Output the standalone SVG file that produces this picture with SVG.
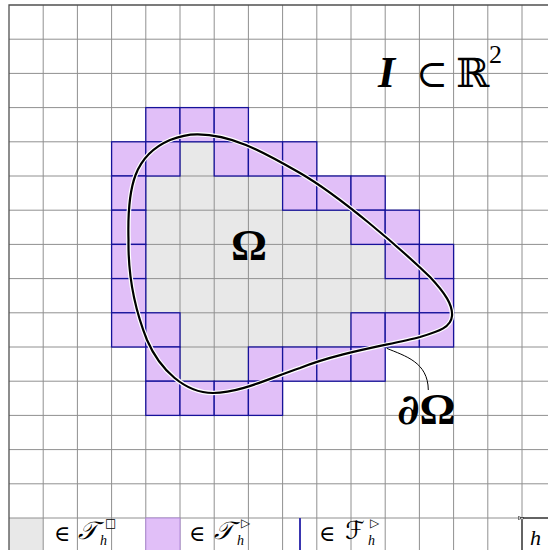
<svg xmlns="http://www.w3.org/2000/svg" width="548" height="550" viewBox="0 0 548 550">
<defs>
<style>
.g{fill:#e8e8e8;stroke:none}
.p{fill:#e1bff8;stroke:#16129a;stroke-width:1.3}
.grid{fill:none;stroke:#909090;stroke-width:1}
.ser{font-family:"Liberation Serif","DejaVu Serif",serif}
.mth{font-family:"DejaVu Serif","DejaVu Sans",serif}
.sym{font-family:"DejaVu Sans",sans-serif}
</style>
<marker id="ah" viewBox="0 0 10 10" refX="1" refY="5" markerWidth="4" markerHeight="4" orient="auto-start-reverse" markerUnits="userSpaceOnUse">
<path d="M10,1 L1,5 L10,9 Z" fill="#fff" stroke="#000" stroke-width="1.5"/>
</marker>
</defs>
<rect x="0" y="0" width="548" height="550" fill="#fff"/>
<g id="inner-cells">
<rect class="g" x="180" y="141.8" width="34.2" height="34.2"/>
<rect class="g" x="145.8" y="176" width="136.8" height="34.2"/>
<rect class="g" x="145.8" y="210.2" width="205.2" height="34.2"/>
<rect class="g" x="145.8" y="244.4" width="239.4" height="34.2"/>
<rect class="g" x="145.8" y="278.6" width="273.6" height="34.2"/>
<rect class="g" x="180" y="312.8" width="171" height="34.2"/>
<rect class="g" x="180" y="347" width="68.4" height="34.2"/>
<rect class="g" x="9" y="518" width="34.2" height="40"/>
</g>
<g id="grid">
<path class="grid" d="M43.2,5V550M77.4,5V550M111.6,5V550M145.8,5V550M180,5V550M214.2,5V550M248.4,5V550M282.6,5V550M316.8,5V550M351,5V550M385.2,5V550M419.4,5V550M453.6,5V550M487.8,5V550M522,5V550M9,39.2H548M9,73.4H548M9,107.6H548M9,141.8H548M9,176H548M9,210.2H548M9,244.4H548M9,278.6H548M9,312.8H548M9,347H548M9,381.2H548M9,415.4H548M9,449.6H548M9,483.8H548M9,518H548"/>
<path d="M9,550V5H548" fill="none" stroke="#505050" stroke-width="1.3"/>
</g>
<g id="cut-cells">
<rect class="p" x="145.8" y="107.6" width="34.2" height="34.2"/>
<rect class="p" x="180" y="107.6" width="34.2" height="34.2"/>
<rect class="p" x="214.2" y="107.6" width="34.2" height="34.2"/>
<rect class="p" x="111.6" y="141.8" width="34.2" height="34.2"/>
<rect class="p" x="145.8" y="141.8" width="34.2" height="34.2"/>
<rect class="p" x="214.2" y="141.8" width="34.2" height="34.2"/>
<rect class="p" x="248.4" y="141.8" width="34.2" height="34.2"/>
<rect class="p" x="282.6" y="141.8" width="34.2" height="34.2"/>
<rect class="p" x="111.6" y="176" width="34.2" height="34.2"/>
<rect class="p" x="282.6" y="176" width="34.2" height="34.2"/>
<rect class="p" x="316.8" y="176" width="34.2" height="34.2"/>
<rect class="p" x="351" y="176" width="34.2" height="34.2"/>
<rect class="p" x="111.6" y="210.2" width="34.2" height="34.2"/>
<rect class="p" x="351" y="210.2" width="34.2" height="34.2"/>
<rect class="p" x="385.2" y="210.2" width="34.2" height="34.2"/>
<rect class="p" x="111.6" y="244.4" width="34.2" height="34.2"/>
<rect class="p" x="385.2" y="244.4" width="34.2" height="34.2"/>
<rect class="p" x="419.4" y="244.4" width="34.2" height="34.2"/>
<rect class="p" x="111.6" y="278.6" width="34.2" height="34.2"/>
<rect class="p" x="419.4" y="278.6" width="34.2" height="34.2"/>
<rect class="p" x="111.6" y="312.8" width="34.2" height="34.2"/>
<rect class="p" x="145.8" y="312.8" width="34.2" height="34.2"/>
<rect class="p" x="351" y="312.8" width="34.2" height="34.2"/>
<rect class="p" x="385.2" y="312.8" width="34.2" height="34.2"/>
<rect class="p" x="419.4" y="312.8" width="34.2" height="34.2"/>
<rect class="p" x="145.8" y="347" width="34.2" height="34.2"/>
<rect class="p" x="248.4" y="347" width="34.2" height="34.2"/>
<rect class="p" x="282.6" y="347" width="34.2" height="34.2"/>
<rect class="p" x="316.8" y="347" width="34.2" height="34.2"/>
<rect class="p" x="351" y="347" width="34.2" height="34.2"/>
<rect class="p" x="145.8" y="381.2" width="34.2" height="34.2"/>
<rect class="p" x="180" y="381.2" width="34.2" height="34.2"/>
<rect class="p" x="214.2" y="381.2" width="34.2" height="34.2"/>
<rect class="p" x="248.4" y="381.2" width="34.2" height="34.2"/>
</g>
<g id="boundary">
<path d="M197,134.3 C230,134 260,150 300,173 C340,196 400,248 430,277 C445,293 453,305 452,316 C451,327 440,331 420,337 C390,345 340,352 300,368 C270,378 240,393 213,393 C185,393 160,370 147,340 C135,310 128,275 128.5,240 C127,185 135,155 170,140 C180,136 188,134.3 197,134.3 Z" fill="none" stroke="#fff" stroke-width="4.6"/>
<path d="M197,134.3 C230,134 260,150 300,173 C340,196 400,248 430,277 C445,293 453,305 452,316 C451,327 440,331 420,337 C390,345 340,352 300,368 C270,378 240,393 213,393 C185,393 160,370 147,340 C135,310 128,275 128.5,240 C127,185 135,155 170,140 C180,136 188,134.3 197,134.3 Z" fill="none" stroke="#000" stroke-width="2.2"/>
</g>
<g id="connectors">
<path d="M386.7,348.3 C405,356 428,362 428.3,390" fill="none" stroke="#000" stroke-width="1"/>
</g>
<g id="labels">
<text class="ser" x="249" y="260" font-size="45" font-weight="bold" text-anchor="middle">Ω</text>
<text x="397" y="424" font-size="42" font-weight="bold"><tspan class="mth" font-style="italic">∂</tspan><tspan class="ser" font-size="45">Ω</tspan></text>
<text class="ser" x="378" y="87" font-size="44" font-weight="bold" font-style="italic">I</text>
<text class="mth" x="416" y="87" font-size="38">⊂</text>
<text class="mth" x="456" y="87" font-size="40">ℝ</text>
<text class="ser" x="489" y="63" font-size="26">2</text>
</g>
<g id="legend">
<rect x="145.8" y="518" width="34.2" height="40" fill="#e1bff8" stroke="#b08ad8" stroke-width="1"/>
<line x1="300" y1="518" x2="300" y2="550" stroke="#3a36b0" stroke-width="2"/>
<text class="mth" x="54" y="541" font-size="22">∈</text>
<text class="mth" x="78" y="539" font-size="25" font-style="italic">𝒯</text>
<text class="sym" x="105" y="527" font-size="12">□</text>
<text class="ser" x="100" y="545" font-size="14" font-style="italic">h</text>
<text class="mth" x="189" y="541" font-size="22">∈</text>
<text class="mth" x="214" y="539" font-size="25" font-style="italic">𝒯</text>
<text class="sym" x="241" y="527" font-size="12">▷</text>
<text class="ser" x="237" y="545" font-size="14" font-style="italic">h</text>
<text class="mth" x="319" y="541" font-size="22">∈</text>
<text class="mth" x="345" y="539" font-size="25">ℱ</text>
<text class="sym" x="370" y="527" font-size="12">▷</text>
<text class="ser" x="368" y="545" font-size="14" font-style="italic">h</text>
<line x1="522" y1="518" x2="548" y2="518" stroke="#000" stroke-width="1" marker-start="url(#ah)"/>
<line x1="522" y1="521" x2="522" y2="549" stroke="#000" stroke-width="1" marker-start="url(#ah)" marker-end="url(#ah)"/>
<text class="ser" x="530" y="545" font-size="22" font-style="italic">h</text>
</g>
</svg>
